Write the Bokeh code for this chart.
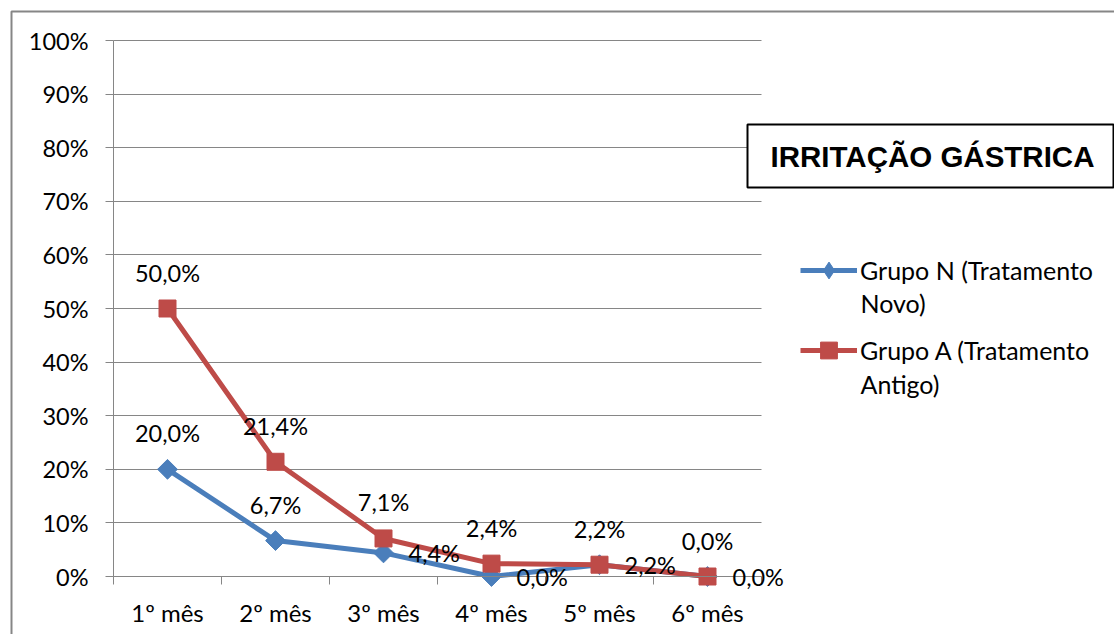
import math

from bokeh.plotting import figure
from bokeh.models import (ColumnDataSource, FixedTicker, LabelSet, Label,
                          Legend, LegendItem, BoxAnnotation, Range1d)
from bokeh.core.properties import value
from bokeh.embed import file_html
from bokeh.resources import INLINE

# Data
months = ["1º mês", "2º mês", "3º mês", "4º mês", "5º mês", "6º mês"]
grupo_n = [20.0, 6.7, 4.4, 0.0, 2.2, 0.0]
grupo_a = [50.0, 21.4, 7.1, 2.4, 2.2, 0.0]
y_ticks = [0, 10, 20, 30, 40, 50, 60, 70, 80, 90, 100]
legend_lines = [("Grupo N (Tratamento", "Novo)"), ("Grupo A (Tratamento", "Antigo)")]
title_text = "IRRITAÇÃO GÁSTRICA"

BLUE = "#4A7EBB"
RED = "#BE4B48"
GRID = "#868686"
FONT = "Lato"

W, H = 1114, 634
# plot area on the canvas: categories span x 113..761, 0-100 % spans y 576..40
PX0, PX1, PY0, PY1 = 113, 761, 576, 40
n = len(months)
kx = (PX1 - PX0) / n
ky = (PY0 - PY1) / 100.0
x_start = 0.5 - PX0 / kx
y_start = -(H - PY0) / ky

xs = list(range(1, n + 1))

def fmt(v):
    return f"{v:.1f}".replace(".", ",") + "%"

# Grupo N: first two labels above the point, the rest to its right
src_n = ColumnDataSource(dict(x=xs, y=grupo_n))
src_a = ColumnDataSource(dict(x=xs, y=grupo_a, txt=[fmt(v) for v in grupo_a]))
src_n_up = ColumnDataSource(dict(x=xs[:2], y=grupo_n[:2], txt=[fmt(v) for v in grupo_n[:2]]))
src_n_rt = ColumnDataSource(dict(x=xs[2:], y=grupo_n[2:], txt=[fmt(v) for v in grupo_n[2:]]))

# The frame fills the whole canvas; axes sit at fixed data positions.
p = figure(width=W, height=H,
           x_range=Range1d(x_start, x_start + W / kx),
           y_range=Range1d(y_start, y_start + H / ky),
           output_backend="svg", toolbar_location=None,
           min_border=0, min_border_left=0, min_border_right=0,
           min_border_top=0, min_border_bottom=0)
p.outline_line_color = None
p.background_fill_color = "white"
p.border_fill_color = "white"
# a range that keeps the legend-only swatch renderer out of sight
p.extra_y_ranges = {"key": Range1d(1000, 1001)}

p.xgrid.visible = False
p.ygrid.ticker = FixedTicker(ticks=y_ticks)
p.ygrid.grid_line_color = GRID
p.ygrid.grid_line_width = 1
p.ygrid.cross_bounds = (0.5, n + 0.5)

xa = p.xaxis[0]
xa.fixed_location = 0
xa.bounds = (0.5, n + 0.5)
xa.ticker = FixedTicker(ticks=xs, minor_ticks=[i + 0.5 for i in range(0, n + 1)])
xa.major_label_overrides = {i: m for i, m in zip(xs, months)}
xa.major_tick_out = 0
xa.major_tick_in = 0
xa.minor_tick_out = 8
xa.minor_tick_in = 0
xa.minor_tick_line_color = GRID
xa.axis_line_color = GRID
xa.major_label_standoff = 13
xa.major_label_text_font = FONT
xa.major_label_text_font_size = "24px"
xa.major_label_text_color = "black"

ya = p.yaxis[0]
ya.fixed_location = 0.5
ya.bounds = (0, 100)
ya.ticker = FixedTicker(ticks=y_ticks)
ya.major_label_overrides = {v: f"{v}%" for v in y_ticks}
ya.major_tick_out = 8
ya.major_tick_in = 0
ya.minor_tick_line_color = None
ya.major_tick_line_color = GRID
ya.axis_line_color = GRID
ya.major_label_standoff = 17
ya.major_label_text_font = FONT
ya.major_label_text_font_size = "23.5px"
ya.major_label_text_color = "black"

# Series (Grupo N markers are squares turned 45 degrees)
ln = p.line("x", "y", source=src_n, line_color=BLUE, line_width=5)
mn = p.scatter("x", "y", source=src_n, marker="square", angle=math.pi / 4,
               size=14, color=BLUE)
la = p.line("x", "y", source=src_a, line_color=RED, line_width=5)
ma = p.scatter("x", "y", source=src_a, marker="square", size=17, color=RED)

# smaller diamond swatch used only by the legend
mn_key = p.scatter("x", "y", source=src_n, marker="diamond", color=BLUE,
                   y_range_name="key")

# Data labels
lbl = dict(text_baseline="middle", text_font=value(FONT), text_font_size="23.5px", text_color="black")
p.add_layout(LabelSet(x="x", y="y", text="txt", source=src_n_up, y_offset=36,
                      text_align="center", **lbl))
p.add_layout(LabelSet(x="x", y="y", text="txt", source=src_n_rt, x_offset=25,
                      text_align="left", **lbl))
p.add_layout(LabelSet(x="x", y="y", text="txt", source=src_a, y_offset=36,
                      text_align="center", **lbl))

# Outer chart border (screen units: from the frame's bottom-left, y upward)
p.add_layout(BoxAnnotation(left=11, right=W + 50, top=H - 11, bottom=-50,
                           left_units="screen", right_units="screen",
                           top_units="screen", bottom_units="screen",
                           fill_alpha=0, line_color=GRID, line_alpha=1, line_width=2))

# Title box
p.add_layout(BoxAnnotation(left=747, right=1113, top=H - 124, bottom=H - 187,
                           left_units="screen", right_units="screen",
                           top_units="screen", bottom_units="screen",
                           fill_color="white", fill_alpha=1,
                           line_color="black", line_alpha=1, line_width=2))
p.add_layout(Label(x=770, y=H - 156, x_units="screen", y_units="screen",
                   text=title_text, text_font="Liberation Sans", text_font_style="bold",
                   text_font_size="29.5px", text_baseline="middle", text_align="left",
                   text_color="black"))

# Legend: one item per series, continuation lines placed under each label
LEG_FONT = "25px"
legend = Legend(items=[LegendItem(label=legend_lines[0][0], renderers=[ln, mn_key]),
                       LegendItem(label=legend_lines[1][0], renderers=[la, ma])],
                location=(800, H - 371),
                label_text_font=FONT, label_text_font_size=LEG_FONT,
                label_text_color="black",
                label_standoff=3, glyph_width=57, glyph_height=42, label_height=42,
                spacing=38, padding=0, margin=0,
                border_line_color=None, background_fill_alpha=0)
p.add_layout(legend, "center")
for (first, second), ypos in zip(legend_lines, [302, 383]):
    p.add_layout(Label(x=860, y=H - ypos, x_units="screen", y_units="screen",
                       text=second, text_font=FONT, text_font_size=LEG_FONT,
                       text_baseline="middle", text_align="left", text_color="black"))

open("out.html", "w").write(file_html(p, INLINE))
